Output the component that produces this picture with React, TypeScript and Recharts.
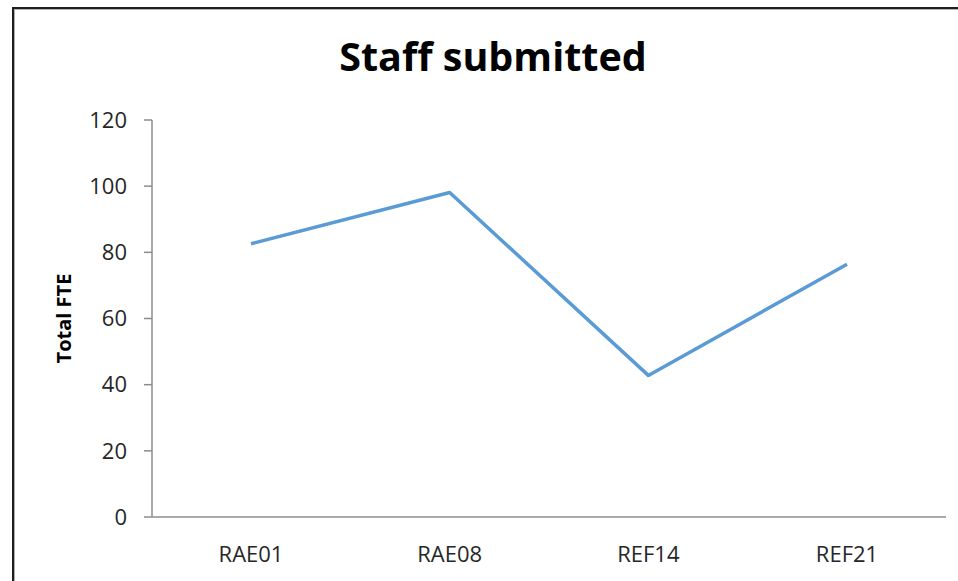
import React from 'react';
import { LineChart, Line, XAxis, YAxis, Label } from 'recharts';

const categories = ['RAE01', 'RAE08', 'REF14', 'REF21'];
const totalFte = [82.6, 98.1, 42.8, 76.4];
const yTicks = [0, 20, 40, 60, 80, 100, 120];
const boundaryTicks = [0, 1, 2, 3, 4];

const data = categories.map((c, i) => ({ cat: c, fte: totalFte[i], idx: i + 0.5 }));

const FONT = '"Open Sans", sans-serif';
const AXIS = '#8c8c8c';
const TEXT = '#262626';

export default function App() {
  return (
    <div style={{ position: 'absolute', left: 0, top: 0, width: 958, height: 581, overflow: 'hidden', background: '#fff' }}>
      <div
        style={{
          position: 'absolute',
          left: 12,
          top: 7,
          width: 1200,
          height: 1200,
          border: '2px solid #1e1e1e',
          boxShadow: 'inset 1px 1px 0 #b0b0b0',
        }}
      />
      <div
        style={{
          position: 'absolute',
          left: 0,
          width: 986,
          top: 30,
          textAlign: 'center',
          fontFamily: FONT,
          fontWeight: 700,
          fontSize: 39.5,
          color: '#000',
          lineHeight: '52px',
        }}
      >
        Staff submitted
      </div>
      <div style={{ position: 'absolute', left: 0, top: 0 }}>
        <LineChart width={958} height={581} data={data} margin={{ top: 120, right: 12, bottom: 4, left: 40 }}>
          <XAxis
            xAxisId="bounds"
            dataKey="idx"
            type="number"
            domain={[0, 4]}
            ticks={boundaryTicks}
            allowDataOverflow
            height={8}
            axisLine={{ stroke: AXIS, strokeWidth: 1.5 }}
            tickLine={{ stroke: AXIS, strokeWidth: 1.5 }}
            tickSize={8}
            tick={false}
          />
          <XAxis
            dataKey="cat"
            xAxisId="labels"
            height={52}
            padding={{ left: 99, right: 99 }}
            axisLine={false}
            tickLine={false}
            tickSize={0}
            tickMargin={21}
            interval={0}
            tick={{ fill: TEXT, fontSize: 22, fontFamily: FONT }}
          />
          <YAxis
            width={112}
            domain={[0, 120]}
            ticks={yTicks}
            interval={0}
            axisLine={{ stroke: AXIS, strokeWidth: 1.5 }}
            tickLine={{ stroke: AXIS, strokeWidth: 1.5 }}
            tickSize={8}
            tickMargin={17}
            tick={{ fill: TEXT, fontSize: 22, fontFamily: FONT }}
          >
            <Label
              value="Total FTE"
              angle={-90}
              position="center"
              dx={-32}
              style={{ fontFamily: FONT, fontWeight: 700, fontSize: 20, fill: '#000' }}
            />
          </YAxis>
          <Line
            xAxisId="labels"
            dataKey="fte"
            stroke="#5B9BD5"
            strokeWidth={3.5}
            strokeLinejoin="round"
            dot={false}
            activeDot={false}
            isAnimationActive={false}
          />
        </LineChart>
      </div>
    </div>
  );
}
